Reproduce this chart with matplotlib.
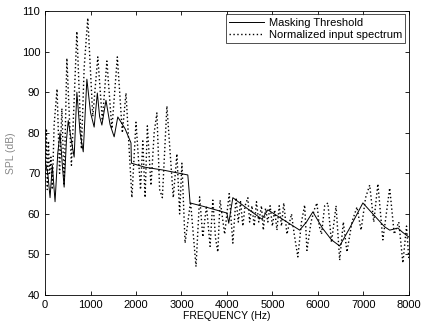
import numpy as np
import matplotlib
matplotlib.use("Agg")
import matplotlib.pyplot as plt

plt.rcParams['font.family'] = ['Liberation Sans', 'DejaVu Sans']

# masking threshold (Hz, dB)
thr_f = [0, 60, 110, 160, 220, 280, 330, 380, 420, 470, 510, 580, 640, 700, 770,
         840, 920, 1000, 1080, 1150, 1200, 1250, 1340, 1430, 1520, 1600, 1760, 1890,
         1900, 2200, 2600, 3140, 3190, 3500, 3910, 4000, 4040, 4130, 4450, 4770, 4900,
         5250, 5600, 5750, 5890, 6100, 6300, 6480, 6700, 6990, 7250, 7470, 7580, 7760,
         7860, 8000]
thr_db = [73, 70, 64, 72, 63, 75, 80, 72, 66.6, 78, 83, 78, 74, 90, 80,
          75.3, 93.2, 85, 81.4, 89.8, 84, 81.9, 88, 82, 79, 83.9, 81, 77.5,
          72.5, 71.5, 70.8, 69.6, 62.7, 61.8, 60.5, 60.2, 57.7, 64, 61.3, 58.7, 61,
          58.5, 56, 58, 60.5, 56.5, 53.6, 52.1, 56.5, 62.7, 59.5, 56.8, 56, 56.5,
          55.5, 54.3]

# normalized input spectrum (Hz, dB)
spec_f = [0, 30, 50, 75, 100, 130, 160, 200, 264, 320, 370, 420, 480, 580, 640,
          700, 800, 860, 940, 1050, 1160, 1260, 1360, 1470, 1590, 1700, 1780, 1910,
          2000, 2100, 2150, 2200, 2250, 2330, 2400, 2460, 2520, 2580, 2680, 2820,
          2900, 2960, 3010, 3080, 3200, 3320, 3400, 3470, 3550, 3630, 3690, 3750,
          3800, 3850, 3950, 4050, 4130, 4200, 4250, 4300, 4350, 4400, 4460, 4500,
          4550, 4600, 4650, 4700, 4760, 4800, 4850, 4900, 4950, 5000, 5050, 5100,
          5150, 5200, 5250, 5320, 5420, 5480, 5560, 5640, 5710, 5760, 5850, 5920,
          5980, 6030, 6080, 6150, 6220, 6300, 6400, 6480, 6560, 6640, 6750, 6860,
          6950, 7050, 7140, 7230, 7320, 7430, 7580, 7680, 7780, 7870, 7950, 8000]
spec_db = [68, 81, 66, 78, 70, 74, 66, 82, 90.8, 70, 86, 67, 98.4, 72, 88,
           105, 76, 96, 108.3, 84, 98.7, 83, 97.7, 81, 98.7, 80, 89.8, 64,
           82.6, 66, 78, 64, 81.7, 67, 80, 84.9, 66, 64, 86.6, 64,
           74.8, 60, 72.5, 52.8, 63, 47, 64.2, 54.3, 62, 52, 63.4, 54,
           50.6, 63.4, 55, 65, 52.8, 64, 58, 63, 57, 62, 64, 58,
           62, 57, 63, 58, 62, 56, 61.4, 58, 62, 57, 61, 56,
           62, 57, 62.7, 55, 60, 55, 49.4, 58, 62.2, 51, 58, 61,
           62.7, 57, 55, 62, 62.7, 53, 62, 48.6, 58, 50.6, 58, 61.7,
           56, 64, 67.1, 58, 67.4, 53.6, 66.4, 55, 58, 47.9, 57, 49]

fig = plt.figure(figsize=(4.21, 3.26), dpi=100)
ax = fig.add_axes([0.107, 0.095, 0.864, 0.871])

ax.plot(thr_f, thr_db, color='black', linewidth=0.7, label='Masking Threshold')
ax.plot(spec_f, spec_db, color='black', linestyle=(0, (1, 1.8)), linewidth=1.0,
        label='Normalized input spectrum')

ax.set_xlim(0, 8000)
ax.set_ylim(40, 110)
ax.set_xticks(np.arange(0, 8001, 1000))
ax.set_yticks(np.arange(40, 111, 10))
ax.tick_params(direction='in', top=True, right=True, labelsize=8, length=3, width=0.6)
for s in ax.spines.values():
    s.set_linewidth(0.6)

ax.set_xlabel('FREQUENCY (Hz)', fontsize=7.5, labelpad=1)
ax.set_ylabel('SPL (dB)', fontsize=7.5, labelpad=4, color='#888888')

leg = ax.legend(loc='upper right', fontsize=8, frameon=True, fancybox=False,
                handlelength=3.2, borderpad=0.3, labelspacing=0.2,
                handletextpad=0.4, borderaxespad=0.3)
leg.get_frame().set_edgecolor('black')
leg.get_frame().set_linewidth(0.6)

fig.savefig('out.png', dpi=100)
